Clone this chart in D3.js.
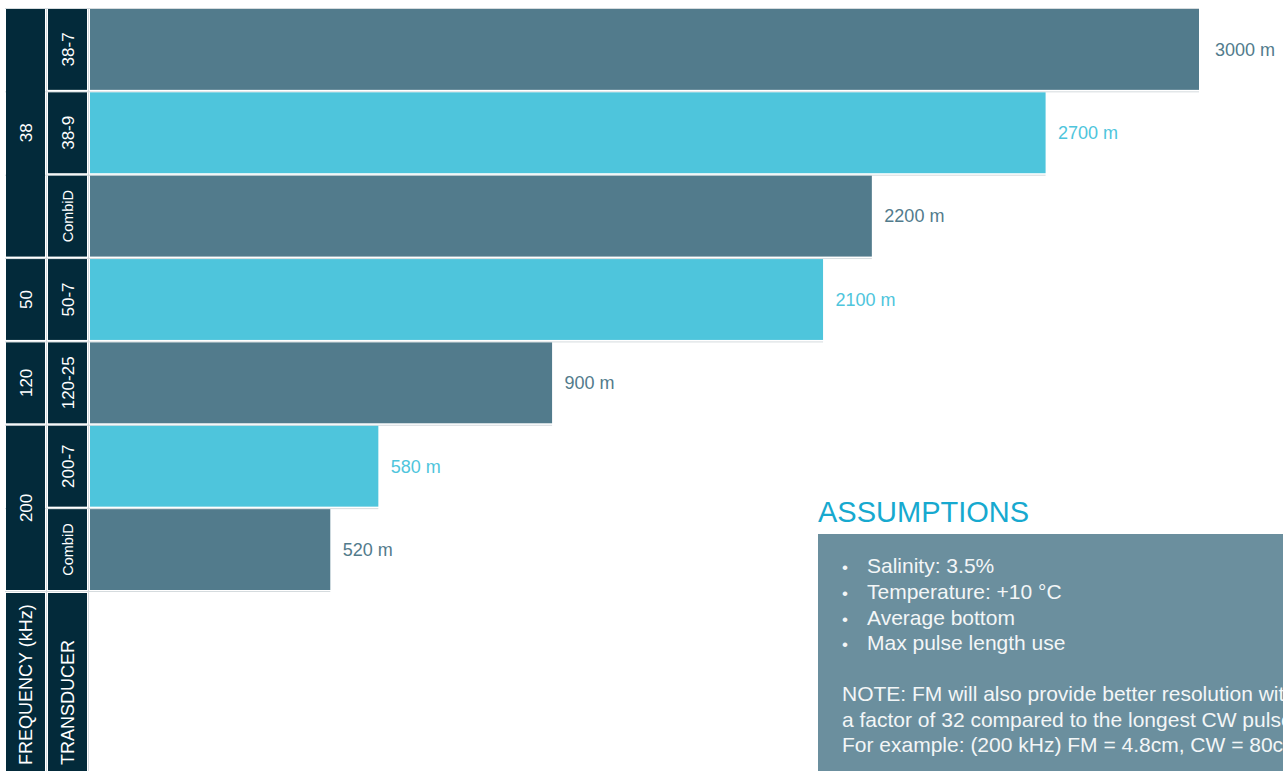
<!DOCTYPE html>
<html>
<head>
<meta charset="utf-8">
<script src="https://cdn.jsdelivr.net/npm/d3@7"></script>
<style>
  html, body { margin: 0; padding: 0; background: #ffffff; }
  svg { display: block; font-family: "Liberation Sans", Arial, sans-serif; }
</style>
</head>
<body>
<svg id="chart" width="1283" height="771"></svg>
<script>
// ---- data ----
const transducers = ["38-7", "38-9", "CombiD", "50-7", "120-25", "200-7", "CombiD"];
const frequencies = ["38", "38", "38", "50", "120", "200", "200"];
const rangeLabels = [3000, 2700, 2200, 2100, 900, 580, 520];          // printed max range (m)
const barLength = [3000, 2585, 2115, 1983, 1250, 780, 650];           // drawn bar length (m on axis)
const colourGroup = ["dark", "light", "dark", "light", "dark", "light", "dark"];
const headerLabels = ["FREQUENCY (kHz)", "TRANSDUCER"];
const assumptionsTitle = "ASSUMPTIONS";
const assumptionBullets = ["Salinity: 3.5%", "Temperature: +10 °C", "Average bottom", "Max pulse length use"];
const noteLines = [
  "NOTE: FM will also provide better resolution with",
  "a factor of 32 compared to the longest CW pulse.",
  "For example: (200 kHz) FM = 4.8cm, CW = 80cm"
];

// ---- styles ----
const C = { dark: "#527b8c", light: "#4ec5dc", cell: "#032a3a", grid: "#d5dbde", box: "#6b8f9e", title: "#17a9cf" };

const svg = d3.select("#chart");
const idx = d3.range(transducers.length);

const y = d3.scaleBand().domain(idx).range([9, 590]).paddingInner(0.03);
const x = d3.scaleLinear().domain([0, 3000]).range([90, 1199]);

// frequency groups (consecutive)
const groups = [];
frequencies.forEach((f, i) => {
  const last = groups[groups.length - 1];
  if (last && last.f === f) last.end = i; else groups.push({ f, start: i, end: i });
});

// grid lines between rows
const gapY = idx.map(i => y(i) - 1).concat([y(idx.length - 1) + y.bandwidth() + 1]);
svg.append("g").selectAll("line").data(gapY).join("line")
  .attr("x1", 5).attr("x2", (d, k) => {
    const a = k > 0 ? x(barLength[k - 1]) : 0;
    const b = k < barLength.length ? x(barLength[k]) : 0;
    return Math.max(a, b, 88);
  })
  .attr("y1", d => d + 0.5).attr("y2", d => d + 0.5)
  .attr("stroke", C.grid).attr("stroke-width", 1);

// vertical separators
svg.append("g").selectAll("line").data([46.5, 88.5]).join("line")
  .attr("x1", d => d).attr("x2", d => d).attr("y1", 9).attr("y2", 771)
  .attr("stroke", C.grid).attr("stroke-width", 1);

// bars
svg.append("g").selectAll("rect").data(idx).join("rect")
  .attr("x", x(0)).attr("y", i => y(i))
  .attr("width", i => x(barLength[i]) - x(0))
  .attr("height", y.bandwidth())
  .attr("fill", i => C[colourGroup[i]]);

// value labels
svg.append("g").selectAll("text").data(idx).join("text")
  .attr("x", i => x(barLength[i]) + (i === 0 ? 16 : 12.5))
  .attr("y", i => y(i) + y.bandwidth() / 2)
  .attr("dy", "0.35em")
  .attr("font-size", 18)
  .attr("fill", i => C[colourGroup[i]])
  .text(i => rangeLabels[i] + " m");

// transducer cells
const tc = svg.append("g");
tc.selectAll("rect").data(idx).join("rect")
  .attr("x", 48).attr("y", i => y(i)).attr("width", 39).attr("height", y.bandwidth())
  .attr("fill", C.cell);
tc.selectAll("text").data(idx).join("text")
  .attr("transform", i => `translate(${67.5},${y(i) + y.bandwidth() / 2}) rotate(-90)`)
  .attr("text-anchor", "middle").attr("dy", "0.36em")
  .attr("font-size", i => transducers[i].length > 5 && /[a-z]/.test(transducers[i]) ? 14.5 : 17)
  .attr("fill", "#ffffff")
  .text(i => transducers[i]);

// frequency cells
const fc = svg.append("g");
fc.selectAll("rect").data(groups).join("rect")
  .attr("x", 6).attr("y", g => y(g.start)).attr("width", 39)
  .attr("height", g => y(g.end) + y.bandwidth() - y(g.start))
  .attr("fill", C.cell);
fc.selectAll("text").data(groups).join("text")
  .attr("transform", g => `translate(${25.5},${(y(g.start) + y(g.end) + y.bandwidth()) / 2}) rotate(-90)`)
  .attr("text-anchor", "middle").attr("dy", "0.36em")
  .attr("font-size", 17).attr("fill", "#ffffff")
  .text(g => g.f);

// header cells at bottom
const hy = y(idx.length - 1) + y.bandwidth() + 3;
const hx = [6, 48];
const hc = svg.append("g");
hc.selectAll("rect").data(headerLabels).join("rect")
  .attr("x", (d, k) => hx[k]).attr("y", hy).attr("width", 39).attr("height", 771 - hy + 5)
  .attr("fill", C.cell);
hc.selectAll("text").data(headerLabels).join("text")
  .attr("transform", (d, k) => `translate(${hx[k] + 19.5},765) rotate(-90)`)
  .attr("text-anchor", "start").attr("dy", "0.36em")
  .attr("font-size", 18).attr("fill", "#ffffff")
  .text(d => d);

// assumptions panel
svg.append("text").attr("x", 818).attr("y", 522)
  .attr("font-size", 29).attr("fill", C.title).text(assumptionsTitle);
svg.append("rect").attr("x", 818).attr("y", 534).attr("width", 470).attr("height", 240).attr("fill", C.box);
const ab = svg.append("g").attr("fill", "#f3f6f7").attr("font-size", 21);
ab.selectAll("text.b").data(assumptionBullets).join("text").attr("class", "b")
  .attr("x", 842).attr("y", (d, k) => 573 + k * 25.8).text("•").attr("font-size", 17);
ab.selectAll("text.t").data(assumptionBullets).join("text").attr("class", "t")
  .attr("x", 867).attr("y", (d, k) => 573 + k * 25.8).text(d => d);
ab.selectAll("text.n").data(noteLines).join("text").attr("class", "n")
  .attr("x", 842).attr("y", (d, k) => 701 + k * 25.5).text(d => d);
</script>
</body>
</html>
